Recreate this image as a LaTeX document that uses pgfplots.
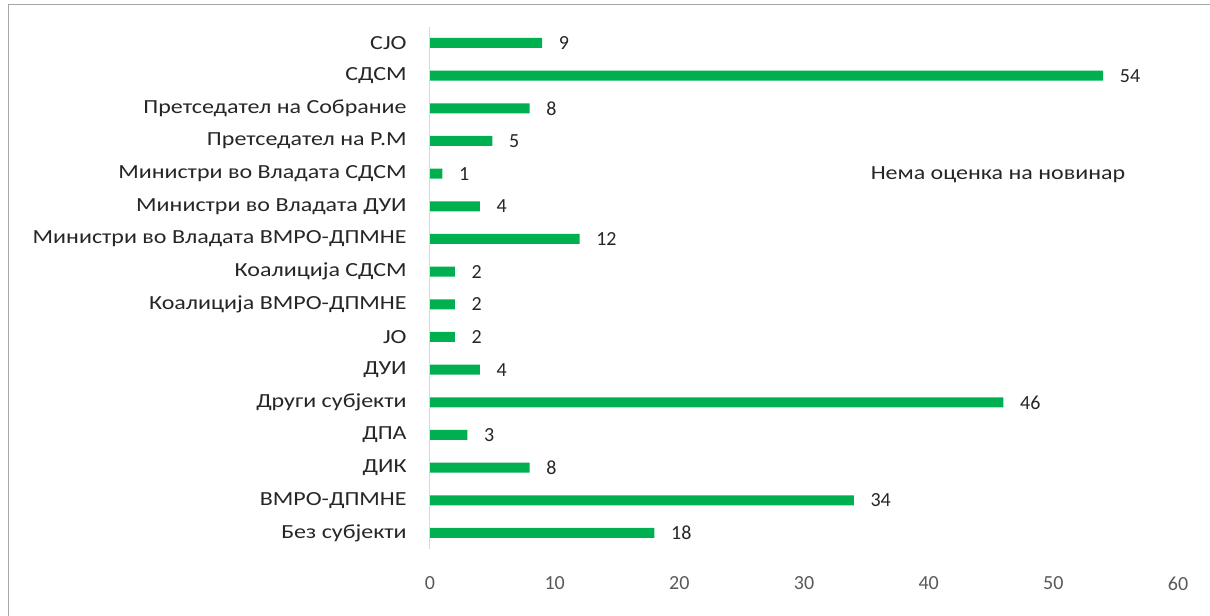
\documentclass[border=0pt]{standalone}
\usepackage{fontspec}
\setmainfont{Carlito}
\newfontfamily\labfont{Carlito}[FakeStretch=1.2]
\usepackage{pgfplots}
\pgfplotsset{compat=1.18}
\definecolor{bargreen}{HTML}{00B050}
\definecolor{axgray}{HTML}{D9D9D9}
\definecolor{ticktext}{HTML}{595959}
\definecolor{labtext}{HTML}{262626}
\begin{document}
\begin{tikzpicture}
\path[use as bounding box] (0,0) rectangle (907.5pt,462pt);
\draw[color=black!35, line width=1pt] (6.5pt,-5pt) rectangle (915pt,458.8pt);
\begin{axis}[
  at={(322.5pt,50pt)}, anchor=south west,
  scale only axis, width=561pt, height=392pt,
  xbar, bar width=7.5pt,
  xmin=0, xmax=60, xtick={0,10,20,30,40,50,60},
  ymin=-0.5, ymax=15.5, y dir=reverse,
  ytick={0,...,15},
  yticklabels={CJO, СДСМ, Претседател на Собрание, Претседател на Р.М, Министри во Владата СДСМ, Министри во Владата ДУИ, Министри во Владата ВМРО-ДПМНЕ, Коалиција СДСМ, Коалиција ВМРО-ДПМНЕ, JO, ДУИ, Други субјекти, ДПА, ДИК, ВМРО-ДПМНЕ, Без субјекти},
  major tick length=0pt,
  axis line style={draw=none},
  /pgf/number format/assume math mode=true,
  yticklabel style={font=\labfont\fontsize{15pt}{18pt}\selectfont, text=labtext, xshift=-14pt},
  xticklabel style={font=\fontsize{15pt}{18pt}\selectfont, text=ticktext, yshift=-17pt},
  nodes near coords,
  nodes near coords style={font=\fontsize{15pt}{18pt}\selectfont, text=labtext, xshift=9pt, /pgf/number format/assume math mode=true},
  legend style={at={(0.58,0.718)}, anchor=west, draw=none, fill=none, font=\labfont\fontsize{15pt}{18pt}\selectfont, text=labtext},
  legend image code/.code={},
  clip=false,
]
\addplot[fill=bargreen, draw=none] coordinates {
(9,0) (54,1) (8,2) (5,3) (1,4) (4,5) (12,6) (2,7) (2,8) (2,9) (4,10) (46,11) (3,12) (8,13) (34,14) (18,15)
};
\addlegendentry{Нема оценка на новинар}
\draw[axgray, line width=0.75pt] (axis cs:0,-0.5) -- (axis cs:0,15.5);
\end{axis}
\end{tikzpicture}
\end{document}
